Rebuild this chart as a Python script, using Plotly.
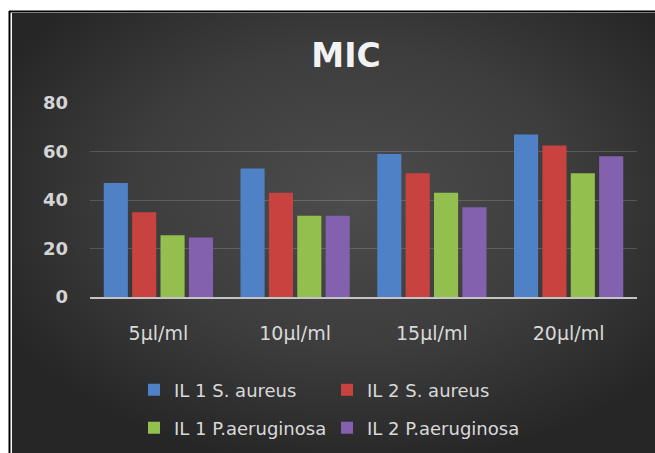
import base64
import plotly.graph_objects as go

# Concentrations on the category axis
categories = ["5µl/ml", "10µl/ml", "15µl/ml", "20µl/ml"]

# MIC readings per isolate
il1_s_aureus = [47, 53, 59, 67]
il2_s_aureus = [35, 43, 51, 62.5]
il1_p_aeruginosa = [25.5, 33.5, 43, 51]
il2_p_aeruginosa = [24.5, 33.5, 37, 58]

# name, values, colour, legend row
series = [
    ("IL 1 S. aureus", il1_s_aureus, "#4f81c6", "legend"),
    ("IL 2 S. aureus", il2_s_aureus, "#c8423f", "legend"),
    ("IL 1 P.aeruginosa", il1_p_aeruginosa, "#93bf4f", "legend2"),
    ("IL 2 P.aeruginosa", il2_p_aeruginosa, "#8461ae", "legend2"),
]

y_ticks = [0, 20, 40, 60, 80]

W, H = 655, 453
L, R, T, B = 90, 18, 103, 156
PW, PH = W - L - R, H - T - B


def px_to_paper_x(px):
    return (px - L) / PW


def px_to_paper_y(py):
    return (H - B - py) / PH


# Dark radial backdrop for the chart card
svg = (
    "<svg xmlns='http://www.w3.org/2000/svg' width='643' height='440'>"
    "<defs><radialGradient id='g' cx='0.53' cy='0.42' r='0.62'>"
    "<stop offset='0' stop-color='#4c4c4c'/>"
    "<stop offset='0.55' stop-color='#3d3d3d'/>"
    "<stop offset='1' stop-color='#262626'/>"
    "</radialGradient></defs>"
    "<rect width='643' height='440' fill='url(#g)'/></svg>"
)
bg_uri = "data:image/svg+xml;base64," + base64.b64encode(svg.encode()).decode()

fig = go.Figure()
for name, vals, color, leg in series:
    fig.add_trace(go.Bar(
        x=categories, y=vals, name=name, legend=leg,
        marker=dict(color=color, line=dict(width=0)),
    ))

legend_style = dict(
    orientation="h",
    x=px_to_paper_x(134), xanchor="left",
    yanchor="middle",
    entrywidth=148,
    itemwidth=30,
    font=dict(family="DejaVu Sans", size=18, color="#d9d9d9"),
    bgcolor="rgba(0,0,0,0)",
)

fig.update_layout(
    width=W, height=H,
    margin=dict(l=L, r=R, t=T, b=B, autoexpand=False),
    paper_bgcolor="white",
    plot_bgcolor="rgba(0,0,0,0)",
    barmode="group",
    bargap=0.17,
    bargroupgap=0.15,
    showlegend=True,
    title=dict(
        text="<b>MIC</b>",
        x=px_to_paper_x(346), xref="paper", xanchor="center",
        y=1 - 55 / H, yref="container", yanchor="middle",
        font=dict(family="DejaVu Sans", size=33, color="#f2f2f2"),
    ),
    legend=dict(legend_style, y=px_to_paper_y(390)),
    legend2=dict(legend_style, y=px_to_paper_y(428)),
    xaxis=dict(
        showgrid=False,
        showline=True, linecolor="#c4c4c4", linewidth=2,
        ticks="",
        ticklabelstandoff=18,
        tickfont=dict(family="DejaVu Sans", size=19, color="#d9d9d9"),
    ),
    yaxis=dict(
        range=[0, 80],
        tickvals=y_ticks,
        showgrid=True, gridcolor="rgba(255,255,255,0.16)", gridwidth=1,
        zeroline=False,
        showline=False,
        ticks="",
        ticklabelstandoff=21,
        tickfont=dict(family="DejaVu Sans", size=18, color="#d4d4d4", weight="bold"),
    ),
    images=[dict(
        source=bg_uri,
        xref="paper", yref="paper",
        x=px_to_paper_x(12), y=px_to_paper_y(13),
        sizex=(W - 12) / PW, sizey=(H - 13) / PH,
        xanchor="left", yanchor="top",
        sizing="stretch", layer="below",
    )],
    shapes=[
        # black frame on the top and left edges
        dict(type="line", xref="paper", yref="paper",
             x0=px_to_paper_x(9.5), x1=px_to_paper_x(9.5),
             y0=px_to_paper_y(11), y1=px_to_paper_y(H),
             line=dict(color="black", width=2)),
        dict(type="line", xref="paper", yref="paper",
             x0=px_to_paper_x(9), x1=px_to_paper_x(W),
             y0=px_to_paper_y(11.5), y1=px_to_paper_y(11.5),
             line=dict(color="black", width=2)),
    ],
)

fig.write_html("out.html")
